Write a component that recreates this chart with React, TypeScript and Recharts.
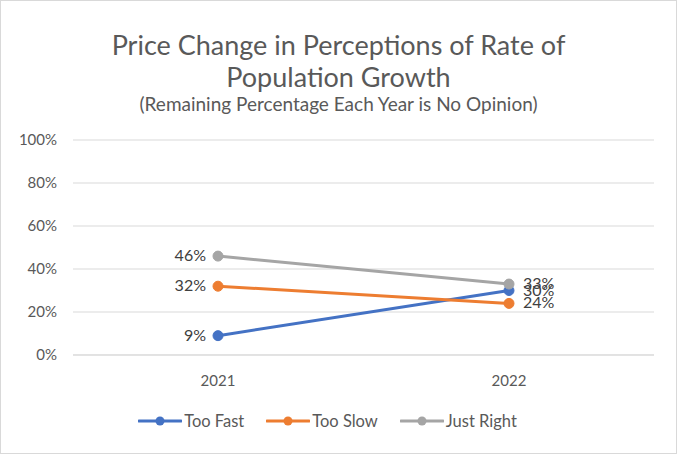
import React from 'react';
import { LineChart, Line, XAxis, YAxis, CartesianGrid, Legend, LabelList } from 'recharts';

// years on the x axis
const years = ['2021', '2022'];
// shares of people per answer, in percent
const tooFast = [9, 30];
const tooSlow = [32, 24];
const justRight = [46, 33];
const yTicks = [0, 20, 40, 60, 80, 100];

const data = years.map((year, i) => ({
  year,
  tooFast: tooFast[i],
  tooSlow: tooSlow[i],
  justRight: justRight[i],
}));

const series = [
  { key: 'tooFast', name: 'Too Fast', color: '#4472C4' },
  { key: 'tooSlow', name: 'Too Slow', color: '#ED7D31' },
  { key: 'justRight', name: 'Just Right', color: '#A5A5A5' },
];

const FONT = 'Lato, "Noto Sans", sans-serif';

// 2021 labels sit left of the point, 2022 labels to the right
const SideLabel = (props: any) => {
  const { x, y, value, index } = props;
  const left = index === 0;
  return (
    <text
      x={left ? x - 12 : x + 14}
      y={y}
      dy={5}
      textAnchor={left ? 'end' : 'start'}
      fill="#404040"
      fontSize={16}
      fontFamily={FONT}
    >
      {value}%
    </text>
  );
};

const LegendRow = () => (
  <div style={{ display: 'flex', justifyContent: 'center', gap: 22, fontFamily: FONT, fontSize: 16.5, color: '#595959' }}>
    {series.map((s) => (
      <div key={s.key} style={{ display: 'flex', alignItems: 'center' }}>
        <svg width={44} height={12} style={{ marginRight: 2 }}>
          <line x1={1} y1={6} x2={43} y2={6} stroke={s.color} strokeWidth={3} strokeLinecap="round" />
          <circle cx={22} cy={6} r={4.5} fill={s.color} />
        </svg>
        <span>{s.name}</span>
      </div>
    ))}
  </div>
);

const App = () => {
  return (
    <div
      style={{
        position: 'absolute',
        left: 0,
        top: 0,
        width: 675,
        height: 452,
        border: '1px solid #d9d9d9',
        background: '#fff',
      }}
    >
      <div
        style={{
          position: 'absolute',
          top: 28,
          left: 0,
          width: 675,
          textAlign: 'center',
          color: '#595959',
          fontFamily: FONT,
        }}
      >
        <div style={{ fontSize: 27, lineHeight: '32px' }}>Price Change in Perceptions of Rate of</div>
        <div style={{ fontSize: 27, lineHeight: '32px' }}>Population Growth</div>
        <div style={{ fontSize: 19, lineHeight: '22px' }}>(Remaining Percentage Each Year is No Opinion)</div>
      </div>
      <LineChart
        width={675}
        height={452}
        data={data}
        margin={{ top: 139, right: 22, left: 0, bottom: 22 }}
      >
        <CartesianGrid vertical={false} stroke="#d9d9d9" />
        <XAxis
          dataKey="year"
          height={56}
          padding={{ left: 145, right: 145 }}
          axisLine={{ stroke: '#d9d9d9' }}
          tickLine={false}
          tickMargin={14}
          tick={{ fill: '#595959', fontSize: 15, fontFamily: FONT }}
        />
        <YAxis
          width={72}
          domain={[0, 100]}
          ticks={yTicks}
          tickFormatter={(v) => `${v}%`}
          axisLine={false}
          tickLine={false}
          tickMargin={10}
          tick={{ fill: '#595959', fontSize: 15, fontFamily: FONT }}
        />
        <Legend verticalAlign="bottom" height={20} content={() => <LegendRow />} />
        {series.map((s) => (
          <Line
            key={s.key}
            dataKey={s.key}
            name={s.name}
            stroke={s.color}
            strokeWidth={3}
            dot={{ r: 5, fill: s.color, stroke: s.color, strokeWidth: 1 }}
            isAnimationActive={false}
          >
            <LabelList dataKey={s.key} content={<SideLabel />} />
          </Line>
        ))}
      </LineChart>
    </div>
  );
};

export default App;
